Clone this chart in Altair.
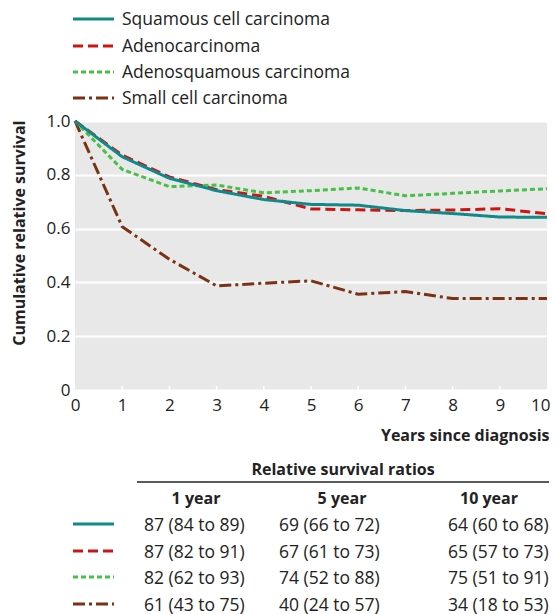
import altair as alt
import pandas as pd

# ---- data -------------------------------------------------------------
years = [0, 1, 2, 3, 4, 5, 6, 7, 8, 9, 10]
series_names = ["Squamous cell carcinoma", "Adenocarcinoma",
                "Adenosquamous carcinoma", "Small cell carcinoma"]
squamous = [1.0, 0.867, 0.787, 0.741, 0.708, 0.690, 0.687, 0.667, 0.656, 0.643, 0.642]
adeno = [1.0, 0.873, 0.792, 0.745, 0.720, 0.673, 0.670, 0.667, 0.669, 0.674, 0.655]
adenosq = [1.0, 0.820, 0.756, 0.762, 0.733, 0.741, 0.751, 0.722, 0.731, 0.740, 0.748]
small = [1.0, 0.607, 0.486, 0.387, 0.397, 0.406, 0.356, 0.366, 0.340, 0.340, 0.340]
y_ticks = [0, 0.2, 0.4, 0.6, 0.8, 1.0]

table_title = "Relative survival ratios"
table_headers = ["1 year", "5 year", "10 year"]
table_rows = [
    ["87 (84 to 89)", "69 (66 to 72)", "64 (60 to 68)"],
    ["87 (82 to 91)", "67 (61 to 73)", "65 (57 to 73)"],
    ["82 (62 to 93)", "74 (52 to 88)", "75 (51 to 91)"],
    ["61 (43 to 75)", "40 (24 to 57)", "34 (18 to 53)"],
]

# ---- styles -----------------------------------------------------------
colors = ["#0e8a8a", "#cc1414", "#46c046", "#7a3212"]
dashes = [[1, 0], [10, 5], [5, 3], [12, 4, 3, 4]]
FONT = "Open Sans"
TXT = "#222222"
REG = 17.5

values = [squamous, adeno, adenosq, small]
draw_order = [3, 2, 1, 0]
rows = []
for i in draw_order:
    for yr, v in zip(years, values[i]):
        rows.append({"series": series_names[i], "year": yr, "value": v})
df = pd.DataFrame(rows)

x_axis = alt.Axis(values=years, format="d", labelFont=FONT, labelFontSize=17,
                  labelColor=TXT, labelPadding=7, tickSize=0, domain=False,
                  grid=False, title="Years since diagnosis", titleFont=FONT,
                  titleFontSize=16, titleFontWeight="bold", titleColor=TXT,
                  titleX=474, titleY=45, titleAlign="right",
                  titleBaseline="middle", labelFlush=False,
                  labelAlign=alt.ExprRef(expr="datum.value == 10 ? 'right' : 'center'"),
                  labelOffset=alt.ExprRef(expr="datum.value == 10 ? 3 : 0"))
y_axis = alt.Axis(values=y_ticks,
                  labelExpr="datum.value == 0 ? '0' : format(datum.value, '.1f')",
                  labelFont=FONT, labelFontSize=17, labelColor=TXT,
                  labelPadding=5, tickSize=0, domain=False, grid=True,
                  gridColor="white", gridWidth=2,
                  title="Cumulative relative survival", titleFont=FONT,
                  titleFontSize=16, titleFontWeight="bold", titleColor=TXT,
                  titleAngle=-90, titleX=-56, titleY=-1, titleAlign="right",
                  titleBaseline="middle", labelFlush=False)

x_scale = alt.Scale(domain=[0, 10], nice=False)

lines = alt.Chart(df).mark_line(strokeWidth=3).encode(
    x=alt.X("year:Q", scale=x_scale, axis=x_axis),
    y=alt.Y("value:Q", scale=alt.Scale(domain=[0, 1], nice=False), axis=y_axis),
    color=alt.Color("series:N", scale=alt.Scale(domain=series_names, range=colors), legend=None),
    strokeDash=alt.StrokeDash("series:N", scale=alt.Scale(domain=series_names, range=dashes), legend=None),
    detail="series:N",
)

tick_marks = alt.Chart(pd.DataFrame({"year": years[1:-1]})).mark_rule(
    color="white", strokeWidth=1.5).encode(
    x=alt.X("year:Q", scale=x_scale, axis=x_axis), y=alt.value(269), y2=alt.value(265))

layers = [lines, tick_marks]

one = pd.DataFrame({"k": [0]})


def text_layer(txt, x, y, align="left", bold=False, size=REG, dy=2):
    return alt.Chart(pd.DataFrame({"t": [txt]})).mark_text(
        align=align, baseline="middle", font=FONT, fontSize=size, dy=dy,
        fontWeight="bold" if bold else "normal", color=TXT).encode(
        x=alt.value(x), y=alt.value(y), text="t:N")


def sample_layer(i, y):
    return alt.Chart(one).mark_rule(color=colors[i], strokeDash=dashes[i],
                                    strokeWidth=3).encode(
        x=alt.value(-2), x2=alt.value(39), y=alt.value(y))


legend_y = [-102, -75, -49, -23]
for i, name in enumerate(series_names):
    layers.append(sample_layer(i, legend_y[i]))
    layers.append(text_layer(name, 47, legend_y[i], dy=1))

# table
layers.append(text_layer(table_title, 268, 347, align="center", bold=True, size=16))
layers.append(alt.Chart(one).mark_rule(color=TXT, strokeWidth=1.5).encode(
    x=alt.value(62), x2=alt.value(474), y=alt.value(361)))
header_x = [121, 267, 414]
for hx, h in zip(header_x, table_headers):
    layers.append(text_layer(h, hx, 376, align="center", bold=True, size=16))
row_y = [403, 430, 456, 483]
col_x = [69, 204, 373]
for i, r in enumerate(table_rows):
    layers.append(sample_layer(i, row_y[i]))
    for cx, cell in zip(col_x, r):
        layers.append(text_layer(cell, cx, row_y[i]))

chart = alt.layer(*layers).properties(
    width=472, height=269,
    autosize=alt.AutoSizeParams(type="none"),
    padding={"left": 67, "top": 113, "right": 3, "bottom": 224},
).configure_view(fill="#e8e8e8", stroke=None)

chart.save("out.html", embed_options={"renderer": "svg", "actions": False})
